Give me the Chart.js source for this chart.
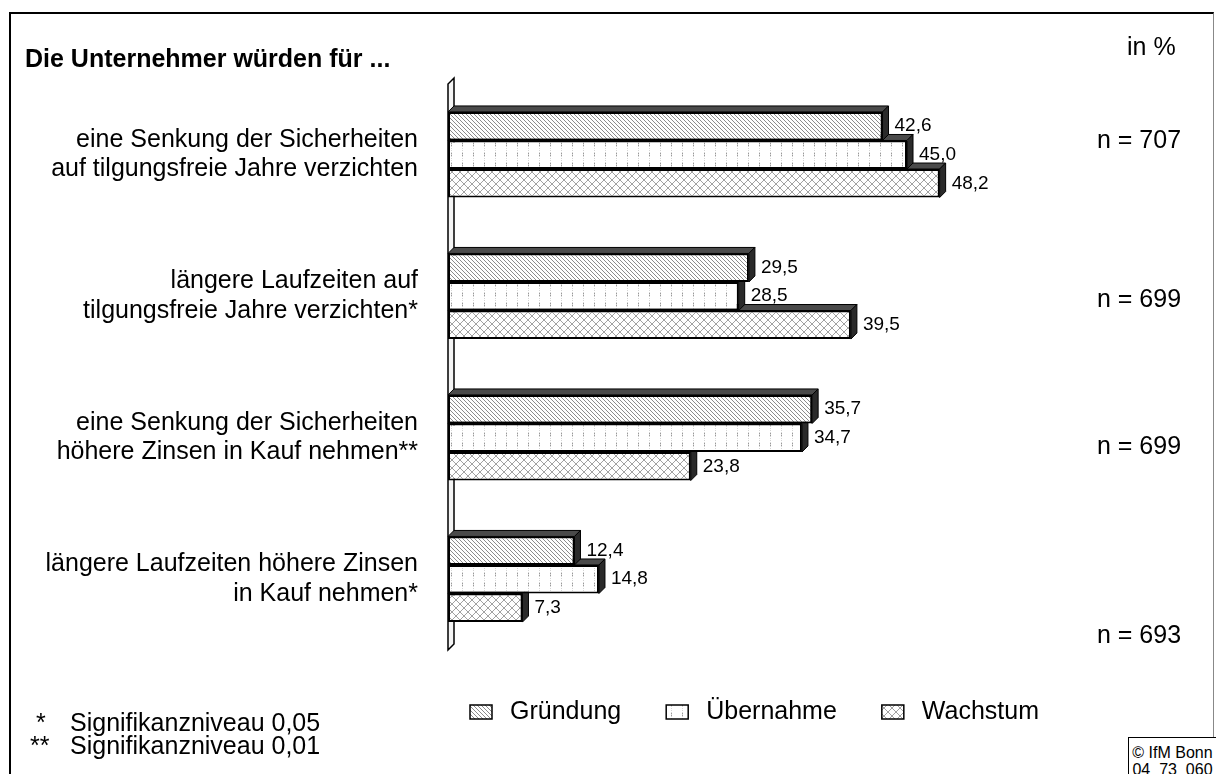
<!DOCTYPE html>
<html lang="de">
<head>
<meta charset="utf-8">
<script src="https://cdn.jsdelivr.net/npm/chart.js@4.4.1/dist/chart.umd.min.js"></script>
<style>
  html, body { margin: 0; padding: 0; background: #fff; }
  #wrap { position: relative; width: 1216px; height: 774px; overflow: hidden;
          font-family: "Liberation Sans", Arial, sans-serif; color: #000; }
  #chart { position: absolute; left: 0; top: 0; }
  .frame { position: absolute; left: 9px; top: 12px; width: 1205px; height: 800px;
           border: 2px solid #000; border-right: 1px solid #888; box-sizing: border-box; }
  .txt { position: absolute; white-space: nowrap; font-size: 25px; line-height: 28px; }
  .title { left: 25px; top: 44px; font-weight: bold; }
  .unit { left: 1127px; top: 32px; }
  .copy { position: absolute; left: 1128px; top: 737px; width: 89px; height: 60px;
          border: 1.5px solid #000; box-sizing: border-box; background: #fff;
          font-size: 16px; line-height: 17px; text-align: center; padding-top: 6px; }
</style>
</head>
<body>
<div id="wrap">
  <div class="frame"></div>
  <canvas id="chart" width="1216" height="774"></canvas>
  <div class="txt title">Die Unternehmer würden für ...</div>
  <div class="txt unit">in %</div>
  <div class="txt" style="left:36px; top:708px;">*</div>
  <div class="txt" style="left:70px; top:708px;">Signifikanzniveau 0,05</div>
  <div class="txt" style="left:30px; top:731px;">**</div>
  <div class="txt" style="left:70px; top:731px;">Signifikanzniveau 0,01</div>
  <div class="copy">© IfM Bonn<br>04_73_060</div>
</div>
<script>
const categories = [
  ['eine Senkung der Sicherheiten', 'auf tilgungsfreie Jahre verzichten'],
  ['längere Laufzeiten auf', 'tilgungsfreie Jahre verzichten*'],
  ['eine Senkung der Sicherheiten', 'höhere Zinsen in Kauf nehmen**'],
  ['längere Laufzeiten höhere Zinsen', 'in Kauf nehmen*']
];
const seriesNames = ['Gründung', 'Übernahme', 'Wachstum'];
const gruendung = [42.6, 29.5, 35.7, 12.4];
const uebernahme = [45.0, 28.5, 34.7, 14.8];
const wachstum = [48.2, 39.5, 23.8, 7.3];
const sampleSizes = [707, 699, 699, 693];

const FONT = '"Liberation Sans", Arial, sans-serif';
const DEPTH = 6;
// vertical shift of the n = ... labels from their category centre
const nOffsets = [-14, 4, 9, 57];

const canvas = document.getElementById('chart');
const ctx = canvas.getContext('2d');

function makePattern(w, h, draw) {
  const c = document.createElement('canvas');
  c.width = w; c.height = h;
  const g = c.getContext('2d');
  g.fillStyle = '#fff';
  g.fillRect(0, 0, w, h);
  draw(g);
  return ctx.createPattern(c, 'repeat');
}

// back-slash hatch
const hatch = makePattern(4, 4, g => {
  g.fillStyle = '#8c8c8c';
  for (let i = 0; i < 4; i++) g.fillRect(i, i, 1, 1);
});
// sparse dotted columns
const dots = makePattern(11, 10, g => {
  g.fillStyle = '#d6d6d6';
  for (let y = 0; y < 10; y += 2) g.fillRect(0, y, 1, 1);
  g.fillStyle = '#999';
  g.fillRect(0, 3, 1, 1);
  g.fillRect(0, 5, 1, 1);
});
// diamond lattice
const lattice = makePattern(8, 8, g => {
  g.fillStyle = '#a2a2a2';
  for (let i = 0; i < 8; i++) {
    g.fillRect(i, i, 1, 1);
    g.fillRect(7 - i, i, 1, 1);
  }
});
const fills = [hatch, dots, lattice];

function barBox(bar) {
  const p = bar.getProps(['x', 'y', 'base', 'height'], true);
  return { left: p.base, right: p.x, top: p.y - p.height / 2, bottom: p.y + p.height / 2, mid: p.y };
}

// 3D wall on the value axis and depth faces behind every bar
const depthPlugin = {
  id: 'depth',
  beforeDatasetsDraw(chart) {
    const { ctx, chartArea: a } = chart;
    ctx.save();
    ctx.beginPath();
    ctx.moveTo(a.left, a.bottom);
    ctx.lineTo(a.left, a.top);
    ctx.lineTo(a.left + DEPTH, a.top - DEPTH);
    ctx.lineTo(a.left + DEPTH, a.bottom - DEPTH);
    ctx.closePath();
    ctx.fillStyle = '#f4f4f4';
    ctx.fill();
    ctx.lineWidth = 1.5;
    ctx.strokeStyle = '#000';
    ctx.stroke();

    ctx.lineWidth = 1;
    for (let di = chart.data.datasets.length - 1; di >= 0; di--) {
      chart.getDatasetMeta(di).data.forEach(bar => {
        const b = barBox(bar);
        ctx.beginPath();
        ctx.moveTo(b.left, b.top);
        ctx.lineTo(b.left + DEPTH, b.top - DEPTH);
        ctx.lineTo(b.right + DEPTH, b.top - DEPTH);
        ctx.lineTo(b.right, b.top);
        ctx.closePath();
        ctx.fillStyle = '#4a4a4a';
        ctx.fill();
        ctx.stroke();

        ctx.beginPath();
        ctx.moveTo(b.right, b.top);
        ctx.lineTo(b.right + DEPTH, b.top - DEPTH);
        ctx.lineTo(b.right + DEPTH, b.bottom - DEPTH);
        ctx.lineTo(b.right, b.bottom);
        ctx.closePath();
        ctx.fillStyle = '#2a2a2a';
        ctx.fill();
        ctx.stroke();
      });
    }
    ctx.restore();
  },
  afterDatasetsDraw(chart) {
    const { ctx } = chart;
    ctx.save();
    ctx.fillStyle = '#000';
    ctx.textBaseline = 'middle';
    ctx.textAlign = 'left';
    ctx.font = '19px ' + FONT;
    chart.data.datasets.forEach((ds, di) => {
      chart.getDatasetMeta(di).data.forEach((bar, i) => {
        const b = barBox(bar);
        ctx.fillText(ds.data[i].toFixed(1).replace('.', ','), b.right + DEPTH + 6, b.mid);
      });
    });

    // sample sizes on the right
    const yScale = chart.scales.y;
    ctx.font = '25px ' + FONT;
    ctx.textAlign = 'center';
    sampleSizes.forEach((n, i) => {
      ctx.fillText('n = ' + n, 1139, yScale.getPixelForValue(i) + nOffsets[i]);
    });

    // legend
    let x = 470;
    const y = 712;
    ctx.textAlign = 'left';
    chart.data.datasets.forEach(ds => {
      ctx.fillStyle = ds.backgroundColor;
      ctx.fillRect(x, y - 7, 22, 14);
      ctx.lineWidth = 1.5;
      ctx.strokeStyle = '#000';
      ctx.strokeRect(x, y - 7, 22, 14);
      ctx.fillStyle = '#000';
      ctx.fillText(ds.label, x + 40, y);
      x += 40 + ctx.measureText(ds.label).width + 45;
    });
    ctx.restore();
  }
};

new Chart(ctx, {
  type: 'bar',
  data: {
    labels: categories,
    datasets: [gruendung, uebernahme, wachstum].map((values, i) => ({
      label: seriesNames[i],
      data: values,
      backgroundColor: fills[i],
      borderColor: '#000',
      borderWidth: 2,
      borderSkipped: false
    }))
  },
  options: {
    indexAxis: 'y',
    responsive: false,
    animation: false,
    layout: { padding: { left: 10, right: 156, top: 84, bottom: 124 } },
    datasets: { bar: { categoryPercentage: 0.605, barPercentage: 1 } },
    scales: {
      x: { display: false, min: 0, max: 60 },
      y: {
        afterFit(scale) { scale.width = 438; },
        grid: { display: false, drawTicks: false },
        border: { display: false },
        ticks: { color: '#000', padding: 30, font: { family: FONT, size: 25, lineHeight: 1.18 } }
      }
    },
    plugins: { legend: { display: false }, tooltip: { enabled: false } }
  },
  plugins: [depthPlugin]
});
</script>
</body>
</html>
